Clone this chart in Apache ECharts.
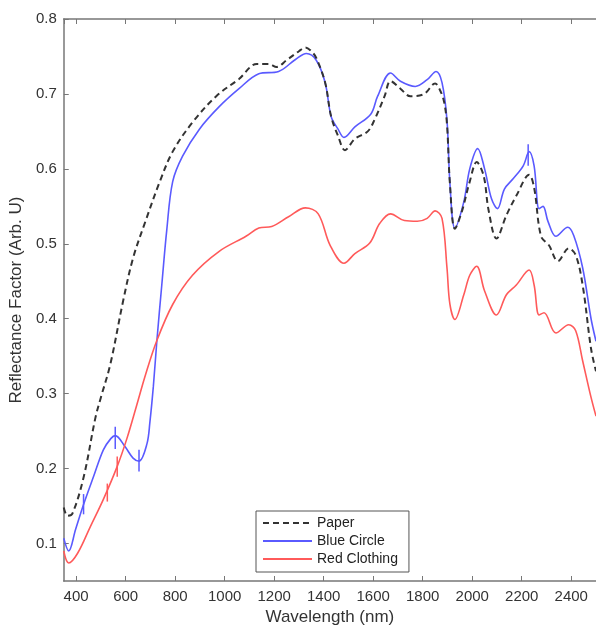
<!DOCTYPE html>
<html>
<head>
<meta charset="utf-8">
<script src="https://cdn.jsdelivr.net/npm/echarts@6/dist/echarts.min.js"></script>
<style>
  html, body { margin: 0; padding: 0; background: #fff; }
  #chart { width: 596px; height: 631px; }
</style>
</head>
<body>
<div id="chart"></div>
<script>
// wavelength (nm) / reflectance
const paperWl = [350, 365, 385, 430, 478, 500, 538, 590, 630, 680, 738, 790, 870, 966, 1058, 1130, 1178, 1210, 1250, 1300, 1326, 1350, 1370, 1406, 1430, 1458, 1486, 1526, 1578, 1606, 1646, 1670, 1710, 1750, 1806, 1850, 1870, 1886, 1898, 1910, 1930, 1958, 1990, 2018, 2046, 2066, 2098, 2138, 2178, 2230, 2250, 2278, 2310, 2346, 2390, 2418, 2446, 2480, 2500]
const paperVal = [0.148, 0.137, 0.140, 0.188, 0.268, 0.295, 0.339, 0.424, 0.481, 0.530, 0.583, 0.623, 0.662, 0.697, 0.720, 0.740, 0.740, 0.736, 0.745, 0.757, 0.762, 0.757, 0.748, 0.715, 0.670, 0.644, 0.625, 0.640, 0.650, 0.666, 0.697, 0.717, 0.707, 0.697, 0.700, 0.714, 0.705, 0.690, 0.660, 0.580, 0.520, 0.543, 0.583, 0.609, 0.591, 0.545, 0.507, 0.538, 0.564, 0.592, 0.575, 0.510, 0.498, 0.477, 0.494, 0.485, 0.445, 0.360, 0.330]

const blueWl = [350, 370, 398, 430, 470, 510, 540, 558, 598, 630, 654, 686, 698, 712, 726, 746, 766, 790, 830, 898, 978, 1058, 1138, 1218, 1286, 1330, 1370, 1406, 1430, 1458, 1482, 1526, 1590, 1618, 1670, 1710, 1770, 1818, 1854, 1878, 1898, 1910, 1930, 1966, 1990, 2022, 2050, 2078, 2102, 2130, 2166, 2206, 2230, 2250, 2270, 2286, 2306, 2338, 2386, 2410, 2446, 2480, 2500]
const blueVal = [0.107, 0.090, 0.119, 0.152, 0.189, 0.225, 0.240, 0.244, 0.229, 0.214, 0.210, 0.233, 0.262, 0.310, 0.370, 0.445, 0.518, 0.583, 0.617, 0.653, 0.683, 0.707, 0.727, 0.730, 0.746, 0.754, 0.745, 0.715, 0.670, 0.653, 0.642, 0.656, 0.673, 0.697, 0.728, 0.717, 0.710, 0.719, 0.730, 0.715, 0.665, 0.580, 0.521, 0.556, 0.600, 0.627, 0.600, 0.560, 0.547, 0.573, 0.587, 0.604, 0.623, 0.604, 0.547, 0.550, 0.530, 0.510, 0.522, 0.511, 0.468, 0.400, 0.370]

const redWl = [350, 370, 406, 458, 510, 566, 605, 645, 680, 725, 790, 870, 978, 1086, 1138, 1190, 1258, 1326, 1378, 1426, 1482, 1526, 1586, 1626, 1670, 1726, 1778, 1818, 1850, 1878, 1898, 1910, 1930, 1966, 1990, 2018, 2050, 2098, 2138, 2178, 2230, 2250, 2270, 2290, 2338, 2390, 2418, 2446, 2480, 2500]
const redVal = [0.090, 0.074, 0.087, 0.123, 0.159, 0.203, 0.240, 0.285, 0.325, 0.370, 0.419, 0.458, 0.490, 0.510, 0.521, 0.523, 0.536, 0.548, 0.540, 0.498, 0.474, 0.487, 0.501, 0.527, 0.540, 0.531, 0.530, 0.534, 0.544, 0.534, 0.468, 0.419, 0.399, 0.432, 0.458, 0.470, 0.437, 0.405, 0.432, 0.445, 0.465, 0.445, 0.405, 0.408, 0.381, 0.392, 0.384, 0.344, 0.295, 0.270]

// error bars: [wavelength, low, high]
const blueErr = [[430, 0.139, 0.166], [558, 0.226, 0.256], [654, 0.196, 0.225], [2226, 0.604, 0.633]]
const redErr = [[526, 0.156, 0.180], [566, 0.189, 0.216]]

const seriesNames = ['Paper', 'Blue Circle', 'Red Clothing']
const blue = '#5a5aff'
const red = '#ff5a5a'

const zip = (xs, ys) => xs.map((x, i) => [x, ys[i]])

const errSeries = (data, color) => ({
  type: 'custom',
  data: data,
  silent: true,
  z: 3,
  renderItem: (params, api) => {
    const top = api.coord([api.value(0), api.value(2)])
    const bot = api.coord([api.value(0), api.value(1)])
    return {
      type: 'line',
      shape: { x1: top[0], y1: top[1], x2: bot[0], y2: bot[1] },
      style: { stroke: color, lineWidth: 1.5 }
    }
  }
})

const chart = echarts.init(document.getElementById('chart'))

const font = 'Liberation Sans, Arial, sans-serif'

const option = {
  animation: false,
  grid: { left: 63, top: 19, width: 537, height: 565 },
  legend: {
    data: seriesNames,
    orient: 'vertical',
    left: 256,
    top: 511,
    itemWidth: 49,
    itemHeight: 14,
    itemGap: 4,
    padding: [5, 11, 6, 6],
    borderColor: '#555',
    borderWidth: 1,
    backgroundColor: '#fff',
    // hide the marker dot, keep just the line sample
    itemStyle: { opacity: 0 },
    textStyle: { fontFamily: font, fontSize: 14, color: '#222' }
  },
  xAxis: [
    {
      type: 'value',
      min: 350,
      max: 2500,
      splitNumber: 10,
      name: 'Wavelength (nm)',
      nameLocation: 'middle',
      nameGap: 28,
      nameTextStyle: { fontFamily: font, fontSize: 17, color: '#333' },
      axisLine: { lineStyle: { color: '#777', width: 1.5 } },
      axisTick: { inside: true, length: 5, lineStyle: { color: '#777' } },
      axisLabel: {
        margin: 8, fontFamily: font, fontSize: 15, color: '#333',
        showMinLabel: false, showMaxLabel: false,
        formatter: v => String(v)
      },
      splitLine: { show: false }
    },
    {
      type: 'value',
      position: 'top',
      min: 350,
      max: 2500,
      splitNumber: 10,
      axisLine: { show: true, lineStyle: { color: '#777', width: 1.5 } },
      axisTick: { inside: true, length: 5, lineStyle: { color: '#777' } },
      axisLabel: { show: false },
      splitLine: { show: false }
    }
  ],
  yAxis: {
    type: 'value',
    min: 0.05,
    max: 0.8,
    splitNumber: 8,
    name: 'Reflectance Factor (Arb. U)',
    nameLocation: 'middle',
    nameGap: 31,
    nameTextStyle: { fontFamily: font, fontSize: 17, color: '#333' },
    axisLine: { show: true, lineStyle: { color: '#777', width: 1.5 } },
    axisTick: { show: true, inside: true, length: 5, lineStyle: { color: '#777' } },
    axisLabel: { margin: 7, fontFamily: font, fontSize: 15, color: '#333', showMinLabel: false },
    splitLine: { show: false }
  },
  series: [
    {
      name: 'Paper',
      type: 'line',
      data: zip(paperWl, paperVal),
      symbol: 'none',
      smooth: 0.35,
      lineStyle: { color: '#333', width: 2, type: [6, 4] },
      itemStyle: { color: '#333' },
      z: 4
    },
    {
      name: 'Blue Circle',
      type: 'line',
      data: zip(blueWl, blueVal),
      symbol: 'none',
      smooth: 0.35,
      lineStyle: { color: blue, width: 1.6 },
      itemStyle: { color: blue }
    },
    {
      name: 'Red Clothing',
      type: 'line',
      data: zip(redWl, redVal),
      symbol: 'none',
      smooth: 0.35,
      lineStyle: { color: red, width: 1.6 },
      itemStyle: { color: red }
    },
    errSeries(blueErr, blue),
    errSeries(redErr, red)
  ]
}

chart.setOption(option)
</script>
</body>
</html>
